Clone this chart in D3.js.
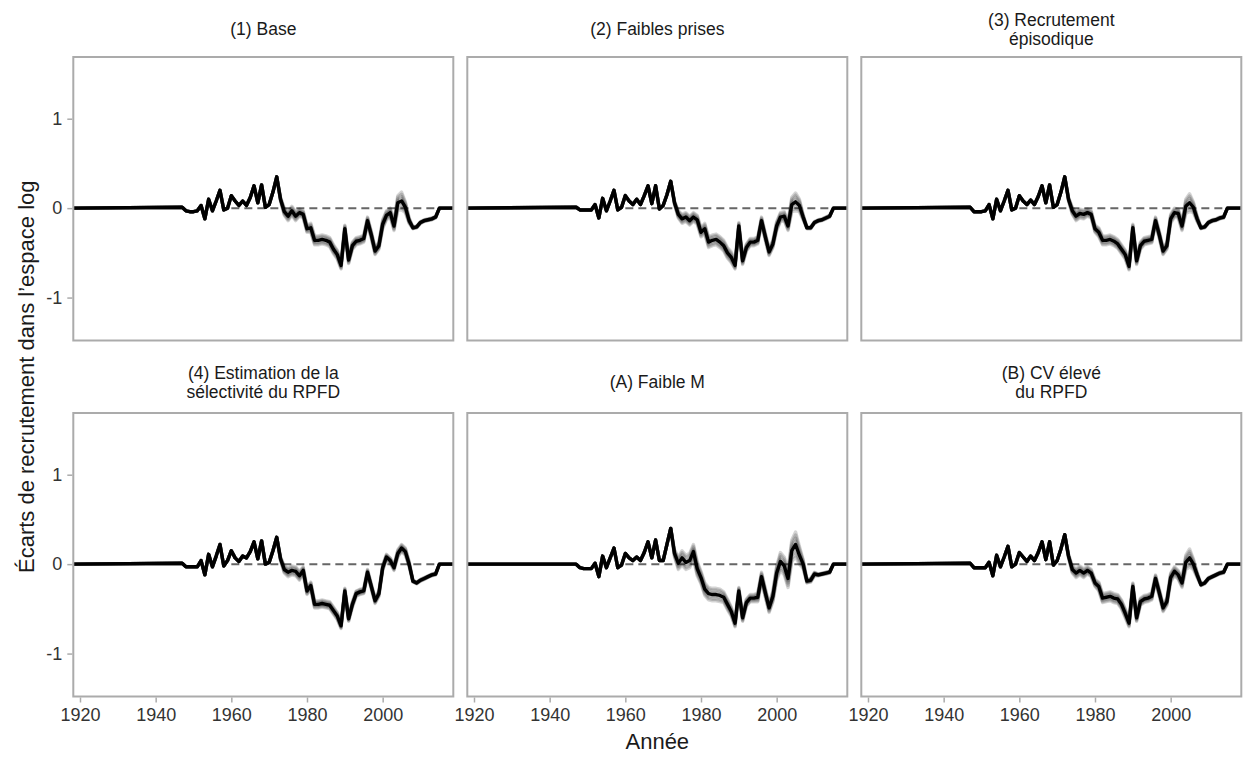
<!DOCTYPE html>
<html>
<head>
<meta charset="utf-8">
<script src="https://cdn.jsdelivr.net/npm/d3@7"></script>
<style>
  body { margin: 0; background: #fff; }
  svg text { font-family: "Liberation Sans", Arial, Helvetica, sans-serif; }
</style>
</head>
<body>
<div id="chart"></div>
<script>
// Years of the recruitment deviations (flat at 0 outside the estimated period)
const years = [
  1918,
  1947, 1948, 1949, 1950, 1951, 1952, 1953, 1954, 1955, 1956,
  1957, 1958, 1959, 1960, 1961, 1962, 1963, 1964, 1965, 1966,
  1967, 1968, 1969, 1970, 1971, 1972, 1973, 1974, 1975, 1976,
  1977, 1978, 1979, 1980, 1981, 1982, 1983, 1984, 1985, 1986,
  1987, 1988, 1989, 1990, 1991, 1992, 1993, 1994, 1995, 1996,
  1997, 1998, 1999, 2000, 2001, 2002, 2003, 2004, 2005, 2006,
  2007, 2008, 2009, 2010, 2011, 2012, 2013, 2014, 2015,
  2019
];

// Median deviations, one series per scenario
const devBase = [0,
  0.01, -0.03, -0.04, -0.04, -0.03, 0.03, -0.12, 0.10, -0.03, 0.08,
  0.20, -0.02, 0.00, 0.14, 0.08, 0.03, 0.08, 0.03, 0.12, 0.25,
  0.06, 0.26, 0.01, 0.04, 0.18, 0.35, 0.10, -0.04, -0.09, -0.03,
  -0.09, -0.05, -0.07, -0.23, -0.22, -0.36, -0.36, -0.35, -0.36, -0.38,
  -0.46, -0.52, -0.64, -0.23, -0.58, -0.42, -0.37, -0.36, -0.34, -0.14,
  -0.30, -0.48, -0.42, -0.18, -0.08, -0.05, -0.20, 0.06, 0.08, 0.01,
  -0.14, -0.22, -0.21, -0.16, -0.14, -0.13, -0.12, -0.10, 0.00,
  0];
const devLowCatch = [0,
  0.01, -0.02, -0.02, -0.02, -0.02, 0.04, -0.11, 0.11, -0.03, 0.08,
  0.20, -0.02, 0.01, 0.14, 0.08, 0.04, 0.10, 0.04, 0.14, 0.25,
  0.05, 0.25, -0.01, 0.03, 0.15, 0.30, 0.06, -0.07, -0.12, -0.10,
  -0.14, -0.10, -0.13, -0.27, -0.23, -0.38, -0.36, -0.35, -0.38, -0.42,
  -0.50, -0.55, -0.64, -0.20, -0.59, -0.44, -0.38, -0.38, -0.36, -0.14,
  -0.32, -0.49, -0.40, -0.20, -0.10, -0.09, -0.20, 0.04, 0.07, 0.03,
  -0.10, -0.22, -0.22, -0.16, -0.14, -0.13, -0.11, -0.09, 0.00,
  0];
const devEpisodic = [0,
  0.01, -0.04, -0.04, -0.04, -0.03, 0.04, -0.12, 0.10, -0.03, 0.08,
  0.20, -0.02, 0.00, 0.14, 0.08, 0.04, 0.09, 0.04, 0.13, 0.25,
  0.06, 0.26, 0.01, 0.04, 0.18, 0.35, 0.10, -0.03, -0.09, -0.06,
  -0.07, -0.05, -0.07, -0.23, -0.27, -0.36, -0.36, -0.35, -0.37, -0.40,
  -0.46, -0.52, -0.65, -0.22, -0.59, -0.42, -0.37, -0.36, -0.35, -0.14,
  -0.30, -0.48, -0.42, -0.12, -0.05, -0.06, -0.20, 0.02, 0.06, 0.01,
  -0.12, -0.22, -0.21, -0.16, -0.14, -0.13, -0.11, -0.10, 0.00,
  0];
const devSelect = [0,
  0.01, -0.03, -0.03, -0.03, -0.03, 0.04, -0.12, 0.11, -0.03, 0.09,
  0.22, -0.02, 0.04, 0.15, 0.07, 0.03, 0.09, 0.07, 0.14, 0.25,
  0.06, 0.26, 0.00, 0.02, 0.15, 0.30, 0.06, -0.06, -0.09, -0.07,
  -0.08, -0.13, -0.07, -0.30, -0.24, -0.45, -0.45, -0.44, -0.45, -0.46,
  -0.52, -0.58, -0.69, -0.30, -0.61, -0.45, -0.33, -0.31, -0.30, -0.09,
  -0.25, -0.41, -0.33, -0.04, 0.08, 0.04, -0.04, 0.12, 0.18, 0.14,
  0.00, -0.19, -0.21, -0.18, -0.16, -0.14, -0.12, -0.11, 0.00,
  0];
const devLowM = [0,
  0.00, -0.04, -0.05, -0.05, -0.05, 0.01, -0.14, 0.09, -0.04, 0.07,
  0.18, -0.04, -0.01, 0.12, 0.07, 0.04, 0.08, 0.04, 0.13, 0.25,
  0.07, 0.27, 0.04, 0.04, 0.22, 0.40, 0.12, 0.01, 0.07, 0.02,
  0.04, 0.14, -0.05, -0.15, -0.28, -0.33, -0.34, -0.34, -0.35, -0.37,
  -0.45, -0.53, -0.66, -0.30, -0.60, -0.43, -0.38, -0.38, -0.37, -0.14,
  -0.32, -0.49, -0.36, -0.10, 0.03, -0.02, -0.16, 0.15, 0.22, 0.10,
  0.00, -0.19, -0.18, -0.11, -0.12, -0.11, -0.10, -0.09, 0.00,
  0];
const devHighCV = [0,
  0.01, -0.04, -0.04, -0.04, -0.04, 0.02, -0.13, 0.10, -0.03, 0.08,
  0.20, -0.03, 0.00, 0.13, 0.08, 0.03, 0.09, 0.04, 0.13, 0.25,
  0.05, 0.25, -0.01, 0.04, 0.17, 0.33, 0.09, -0.06, -0.10, -0.07,
  -0.10, -0.07, -0.10, -0.21, -0.25, -0.38, -0.37, -0.36, -0.38, -0.39,
  -0.45, -0.55, -0.66, -0.25, -0.60, -0.42, -0.39, -0.38, -0.36, -0.16,
  -0.32, -0.49, -0.42, -0.15, -0.08, -0.12, -0.21, 0.02, 0.07, 0.00,
  -0.12, -0.23, -0.21, -0.16, -0.14, -0.12, -0.10, -0.09, 0.00,
  0];

// Half-width of the spread of the posterior draws around the median
const spreadBase = [0,
  0, 0, 0, 0, 0, 0, 0, 0, 0, 0,
  0, 0, 0, 0, 0, 0, 0, 0, 0, 0,
  0, 0, 0, 0, 0, 0, 0.02, 0.04, 0.05, 0.05,
  0.05, 0.04, 0.04, 0.04, 0.05, 0.05, 0.05, 0.05, 0.05, 0.05,
  0.05, 0.05, 0.04, 0.04, 0.04, 0.04, 0.04, 0.04, 0.04, 0.04,
  0.04, 0.04, 0.04, 0.05, 0.05, 0.05, 0.05, 0.08, 0.10, 0.06,
  0.03, 0.01, 0.01, 0.01, 0.01, 0.01, 0.01, 0.01, 0,
  0];
const spreadLowCatch = [0,
  0, 0, 0, 0, 0, 0, 0, 0, 0, 0,
  0, 0, 0, 0, 0, 0, 0, 0, 0, 0,
  0, 0, 0, 0, 0, 0, 0.02, 0.04, 0.05, 0.05,
  0.05, 0.05, 0.05, 0.05, 0.06, 0.06, 0.06, 0.06, 0.06, 0.06,
  0.06, 0.06, 0.04, 0.04, 0.04, 0.04, 0.04, 0.04, 0.04, 0.04,
  0.04, 0.04, 0.04, 0.05, 0.05, 0.05, 0.05, 0.08, 0.10, 0.07,
  0.03, 0.01, 0.01, 0.01, 0.01, 0.01, 0.01, 0.01, 0,
  0];
const spreadSelect = [0,
  0, 0, 0, 0, 0, 0, 0, 0, 0, 0,
  0, 0, 0, 0, 0, 0, 0, 0, 0, 0,
  0, 0, 0, 0, 0, 0, 0.02, 0.04, 0.05, 0.05,
  0.05, 0.05, 0.04, 0.04, 0.04, 0.04, 0.04, 0.04, 0.04, 0.04,
  0.04, 0.04, 0.03, 0.03, 0.03, 0.03, 0.03, 0.03, 0.03, 0.03,
  0.03, 0.03, 0.03, 0.03, 0.03, 0.03, 0.03, 0.04, 0.04, 0.04,
  0.03, 0.01, 0.01, 0.01, 0.01, 0.01, 0.01, 0.01, 0,
  0];
const spreadLowM = [0,
  0, 0, 0, 0, 0, 0, 0, 0, 0, 0,
  0, 0, 0, 0, 0, 0, 0, 0, 0, 0,
  0, 0, 0, 0, 0, 0, 0.04, 0.07, 0.08, 0.08,
  0.08, 0.08, 0.08, 0.07, 0.07, 0.07, 0.07, 0.07, 0.07, 0.06,
  0.06, 0.05, 0.04, 0.04, 0.04, 0.04, 0.04, 0.04, 0.05, 0.05,
  0.05, 0.05, 0.06, 0.08, 0.10, 0.10, 0.10, 0.12, 0.14, 0.10,
  0.05, 0.02, 0.02, 0.02, 0.01, 0.01, 0.01, 0.01, 0,
  0];

const panels = [
  { title: ["(1) Base"], dev: devBase, spread: spreadBase },
  { title: ["(2) Faibles prises"], dev: devLowCatch, spread: spreadLowCatch },
  { title: ["(3) Recrutement", "épisodique"], dev: devEpisodic, spread: spreadBase },
  { title: ["(4) Estimation de la", "sélectivité du RPFD"], dev: devSelect, spread: spreadSelect },
  { title: ["(A) Faible M"], dev: devLowM, spread: spreadLowM },
  { title: ["(B) CV élevé", "du RPFD"], dev: devHighCV, spread: spreadBase }
];

const xTicks = [1920, 1940, 1960, 1980, 2000];
const yTicks = [-1, 0, 1];
const refLineYears = [1960, 2015];

// Layout
const width = 1243, height = 757;
const colLeft = [73.3, 467.3, 861.3], rowTop = [57, 413];
const pw = 380, ph = 283.5;
const titleCenter = [29, 382];
const titleLine = 19;

const svg = d3.select("#chart").append("svg")
  .attr("width", width)
  .attr("height", height);

const x = d3.scaleLinear().domain([1918.23, 2018.67]).range([0, pw]);
const y = d3.scaleLinear().domain([-1.48, 1.69]).range([ph, 0]);

// offsets (in units of the spread) of the drawn posterior draws
const draws = [-1, -0.75, -0.5, -0.25, 0.25, 0.5, 0.75, 1];

svg.append("defs").append("clipPath").attr("id", "clip")
  .append("rect").attr("width", pw).attr("height", ph);

panels.forEach(function (p, i) {
  const col = i % 3, row = Math.floor(i / 3);
  const g = svg.append("g")
    .attr("transform", "translate(" + colLeft[col] + "," + rowTop[row] + ")");

  // strip title
  const cy = titleCenter[row] - rowTop[row] - (p.title.length - 1) * titleLine / 2;
  p.title.forEach(function (t, k) {
    g.append("text")
      .attr("x", pw / 2)
      .attr("y", cy + k * titleLine)
      .attr("dy", "0.36em")
      .attr("text-anchor", "middle")
      .attr("font-size", 17.5)
      .attr("fill", "#1a1a1a")
      .text(t);
  });

  const plot = g.append("g").attr("clip-path", "url(#clip)");

  // reference line at zero
  plot.append("line")
    .attr("x1", x(refLineYears[0])).attr("x2", x(refLineYears[1]))
    .attr("y1", y(0)).attr("y2", y(0))
    .attr("stroke", "#666")
    .attr("stroke-width", 2)
    .attr("stroke-dasharray", "8,5");

  // posterior draws
  draws.forEach(function (z) {
    const line = d3.line()
      .x((d, j) => x(years[j]))
      .y((d, j) => y(d + z * p.spread[j]));
    plot.append("path")
      .datum(p.dev)
      .attr("d", line)
      .attr("fill", "none")
      .attr("stroke", "#000")
      .attr("stroke-opacity", 0.17)
      .attr("stroke-width", 3.4)
      .attr("stroke-linejoin", "round");
  });

  // median
  const medLine = d3.line()
    .x((d, j) => x(years[j]))
    .y(d => y(d));
  plot.append("path")
    .datum(p.dev)
    .attr("d", medLine)
    .attr("fill", "none")
    .attr("stroke", "#000")
    .attr("stroke-width", 3.4)
    .attr("stroke-linejoin", "round");

  // panel border
  g.append("rect")
    .attr("width", pw).attr("height", ph)
    .attr("fill", "none")
    .attr("stroke", "#ababab")
    .attr("stroke-width", 2);

  // axes on outer panels only
  if (col === 0) {
    const ya = g.append("g")
      .call(d3.axisLeft(y).tickValues(yTicks).tickSize(6).tickPadding(5)
        .tickFormat(d => String(d)));
    ya.select(".domain").remove();
    ya.selectAll(".tick line").attr("stroke", "#ababab").attr("stroke-width", 1.5).attr("x1", -1);
    ya.selectAll(".tick text")
      .attr("font-size", 18)
      .attr("fill", "#333")
      .attr("font-family", "'Liberation Sans', Arial, sans-serif");
  }
  if (row === 1) {
    const xa = g.append("g")
      .attr("transform", "translate(0," + ph + ")")
      .call(d3.axisBottom(x).tickValues(xTicks).tickSize(6).tickPadding(6)
        .tickFormat(d => String(d)));
    xa.select(".domain").remove();
    xa.selectAll(".tick line").attr("stroke", "#ababab").attr("stroke-width", 1.5).attr("y1", 1);
    xa.selectAll(".tick text")
      .attr("font-size", 18)
      .attr("fill", "#333")
      .attr("font-family", "'Liberation Sans', Arial, sans-serif");
  }
});

// axis titles
svg.append("text")
  .attr("x", colLeft[1] + pw / 2)
  .attr("y", 749)
  .attr("text-anchor", "middle")
  .attr("font-size", 22)
  .attr("fill", "#1a1a1a")
  .text("Année");

svg.append("text")
  .attr("transform", "translate(34," + ((rowTop[0] + rowTop[1] + ph) / 2) + ") rotate(-90)")
  .attr("text-anchor", "middle")
  .attr("font-size", 22)
  .attr("fill", "#1a1a1a")
  .text("Écarts de recrutement dans l’espace log");
</script>
</body>
</html>
